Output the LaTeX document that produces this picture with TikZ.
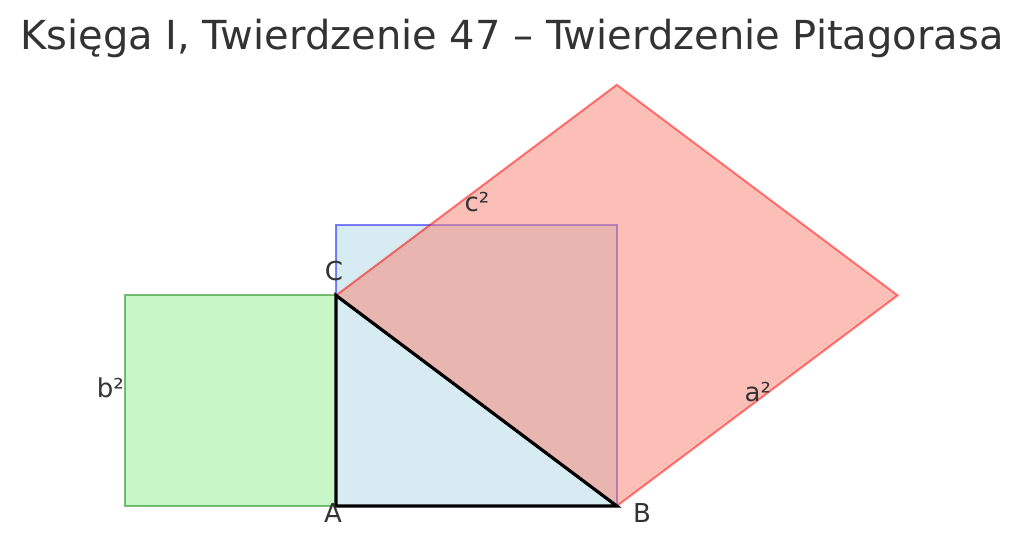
\documentclass[tikz,border=0pt]{standalone}
\usepackage{fontspec}
\setmainfont{DejaVu Sans}
\begin{document}
\begin{tikzpicture}[x=70.2pt,y=70.2pt]
\definecolor{lightgreenc}{RGB}{144,238,144}
\definecolor{lightbluec}{RGB}{173,216,230}
\definecolor{salmonc}{RGB}{250,128,114}
\definecolor{edgegreen}{RGB}{0,128,0}
\definecolor{edgeblue}{RGB}{0,0,255}
\definecolor{edgered}{RGB}{255,0,0}
\definecolor{textgray}{RGB}{51,51,51}
\tikzset{
  sq/.style={fill opacity=0.5,draw opacity=0.5,line width=2pt,line join=miter},
  lbl/.style={text=textgray,font=\fontsize{26pt}{30pt}\selectfont,inner sep=0pt},
}
\useasboundingbox (-4.786,-0.5556) rectangle (9.801,7.208);
\coordinate (A) at (0,0);
\coordinate (B) at (4,0);
\coordinate (C) at (0,3);
\coordinate (G1) at (-3,0);
\coordinate (G2) at (-3,3);
\coordinate (Q1) at (4,4);
\coordinate (Q2) at (0,4);
\coordinate (R1) at (8,3);
\coordinate (R2) at (4,6);
% squares
\path[sq,fill=lightgreenc,draw=edgegreen] (A) -- (G1) -- (G2) -- (C) -- cycle;
\path[sq,fill=lightbluec,draw=edgeblue] (A) -- (B) -- (Q1) -- (Q2) -- cycle;
\path[sq,fill=salmonc,draw=edgered] (C) -- (B) -- (R1) -- (R2) -- cycle;
% triangle
\draw[line width=3.2pt,line join=miter] (A) -- (B) -- (C) -- cycle;
% labels
\node[lbl] (lA) at (-0.043,-0.100) {A};
\node[lbl] (lB) at (4.359,-0.100) {B};
\node[lbl] (lC) at (-0.028,3.340) {C};
\node[lbl] (lb) at (-3.215,1.681) {b²};
\node[lbl] (lc) at (2.009,4.326) {c²};
\node[lbl] (la) at (6.01,1.62) {a²};
\node[text=textgray,font=\fontsize{40pt}{46pt}\selectfont,inner sep=0pt,anchor=base] (title) at (2.507,6.503) {Księga I, Twierdzenie 47 – Twierdzenie Pitagorasa};
\end{tikzpicture}
\end{document}
